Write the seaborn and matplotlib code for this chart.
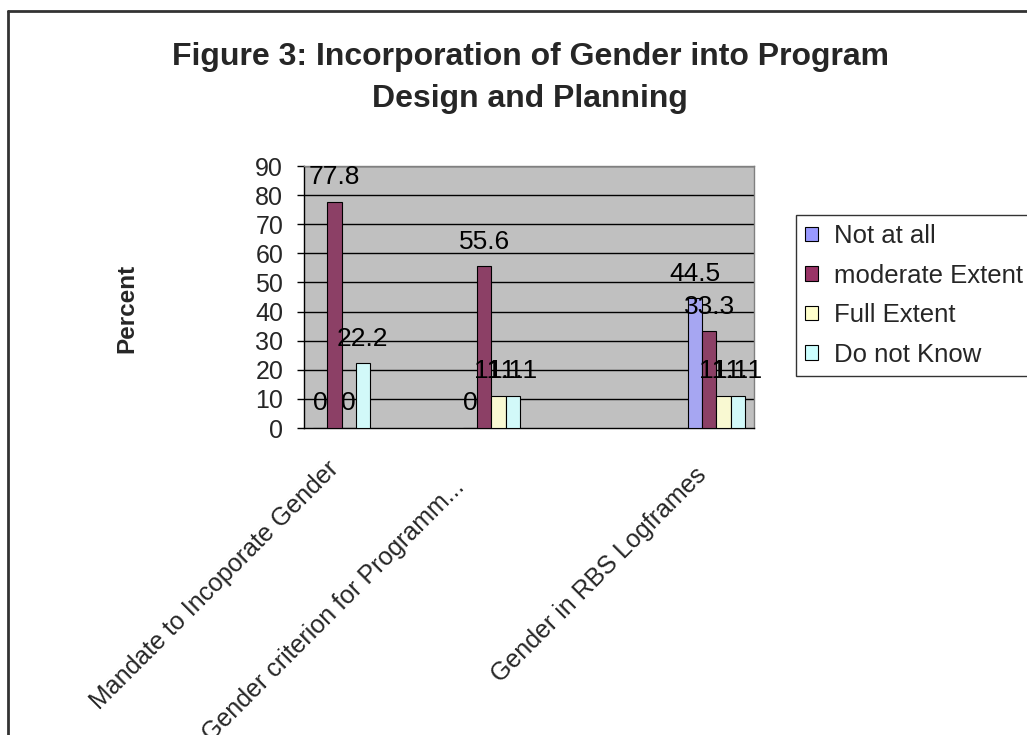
import numpy as np
import pandas as pd
import matplotlib
matplotlib.use("Agg")
import matplotlib.pyplot as plt
from matplotlib.lines import Line2D
from matplotlib.patches import Patch
import seaborn as sns

# data (six category slots, only three carry values)
cat_ids = ["c1", "c2", "c3", "c4", "c5", "c6"]
x_labels = ["Mandate to Incoporate Gender", "", "Gender criterion for Programm...",
            "", "", "Gender in RBS Logframes"]
responses = ["Not at all", "moderate Extent", "Full Extent", "Do not Know"]
not_at_all = [0, np.nan, 0, np.nan, np.nan, 44.5]
moderate = [77.8, np.nan, 55.6, np.nan, np.nan, 33.3]
full_extent = [0, np.nan, 11.1, np.nan, np.nan, 11.1]
do_not_know = [22.2, np.nan, 11.1, np.nan, np.nan, 11.1]
y_ticks = list(range(0, 100, 10))

colors = ["#9999FF", "#993366", "#FFFFCC", "#CCFFFF"]
# offsets (points) of the rotated category labels from their slot
label_offsets = [(-5, -27), (0, 0), (-22, -40), (0, 0), (0, 0), (-10, -31)]

sns.set_theme(style="white")
plt.rcParams["font.family"] = ["Liberation Sans", "DejaVu Sans"]

rows = []
for name, vals in zip(responses, [not_at_all, moderate, full_extent, do_not_know]):
    for c, v in zip(cat_ids, vals):
        rows.append({"category": c, "response": name, "value": v})
df = pd.DataFrame(rows).dropna()

fig = plt.figure(figsize=(10.27, 7.35), dpi=100)
ax = fig.add_axes([304 / 1027, 1 - 428 / 735, 450 / 1027, 262 / 735])
ax.set_facecolor("#C0C0C0")

sns.barplot(data=df, x="category", y="value", hue="response", order=cat_ids,
            hue_order=responses, palette=colors, width=0.75, edgecolor="black",
            linewidth=0.8, errorbar=None, ax=ax, legend=False, zorder=3)

for cont in ax.containers:
    ax.bar_label(cont, fmt="{:g}", padding=9, fontsize=19, color="black", zorder=4)

ax.set_ylim(0, 90)
ax.set_xlim(-0.5, 5.5)
ax.set_yticks(y_ticks)
ax.set_yticklabels([str(t) for t in y_ticks], fontsize=18)
for t in y_ticks[1:]:
    ax.axhline(t, color="black", lw=1, zorder=1)

ax.set_xticks(range(len(cat_ids)))
ax.set_xticklabels([""] * len(cat_ids))
ax.set_xticks(np.arange(-0.5, 6, 1), minor=True)
ax.tick_params(axis="x", which="major", length=0)
ax.tick_params(axis="x", which="minor", length=6, width=1, color="black", direction="out")
ax.tick_params(axis="y", length=5, width=1, color="black", direction="out", pad=10, left=True)
ax.set_xlabel("")
ax.set_ylabel("")

for i, lab in enumerate(x_labels):
    if lab:
        ax.annotate(lab, xy=(i, 0), xycoords="data", xytext=label_offsets[i],
                    textcoords="offset points", rotation=45, rotation_mode="anchor",
                    ha="right", va="center", fontsize=18, annotation_clip=False)

for side in ["left", "bottom"]:
    ax.spines[side].set_color("black")
    ax.spines[side].set_linewidth(1)
for side in ["top", "right"]:
    ax.spines[side].set_color("#808080")
    ax.spines[side].set_linewidth(1)

fig.text(530 / 1027, 1 - 65 / 735, "Figure 3: Incorporation of Gender into Program",
         ha="center", va="baseline", fontsize=23, fontweight="bold")
fig.text(530 / 1027, 1 - 107 / 735, "Design and Planning",
         ha="center", va="baseline", fontsize=23, fontweight="bold")
fig.text(127 / 1027, 1 - 308 / 735, "Percent", rotation=90, ha="center", va="center",
         fontsize=17.5, fontweight="bold")

handles = [Patch(facecolor=c, edgecolor="black", linewidth=0.8) for c in colors]
leg = fig.legend(handles, responses, loc="upper left",
                 bbox_to_anchor=(796 / 1027, 1 - 215 / 735), fontsize=18.5,
                 frameon=True, fancybox=False, shadow=False, handlelength=0.5,
                 handleheight=0.5, handletextpad=0.6, labelspacing=0.6,
                 borderpad=0.36, borderaxespad=0)
leg.get_frame().set_edgecolor("black")
leg.get_frame().set_linewidth(1)

# chart area border (left and top edges visible)
fig.add_artist(Line2D([8 / 1027, 8 / 1027], [0, 1 - 11 / 735], color="#333333", lw=2))
fig.add_artist(Line2D([8 / 1027, 1], [1 - 11 / 735, 1 - 11 / 735], color="#333333", lw=2))

fig.savefig("out.png", dpi=100, facecolor="white")
